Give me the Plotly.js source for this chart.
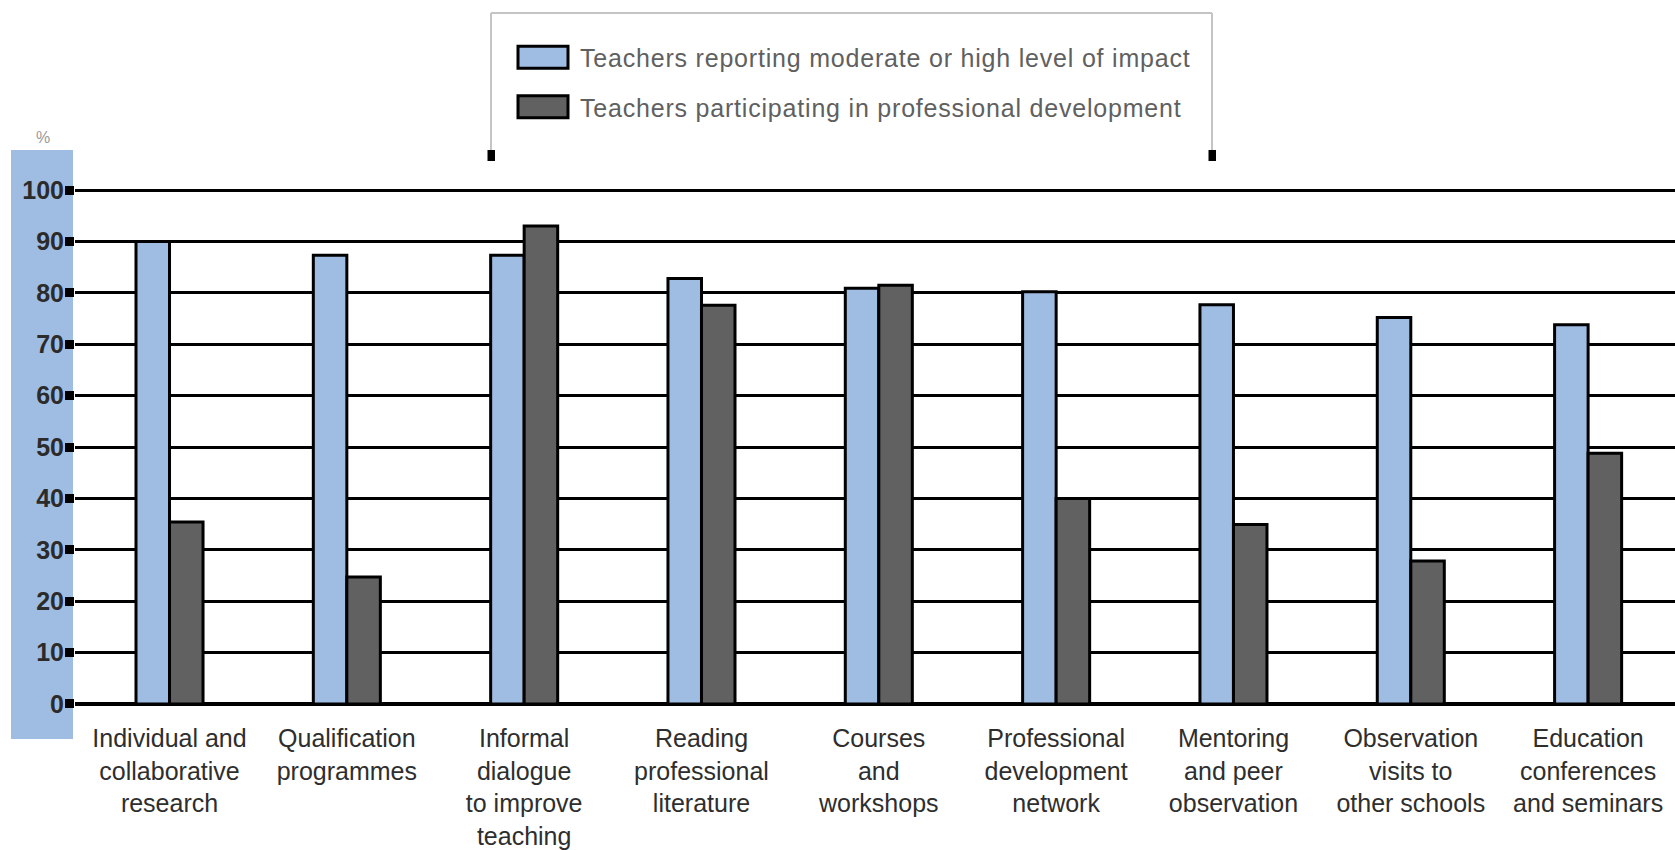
<!DOCTYPE html>
<html>
<head>
<meta charset="utf-8">
<script src="https://cdn.plot.ly/plotly-3.0.1.min.js"></script>
<style>
  html, body { margin: 0; padding: 0; background: #ffffff; }
  #chart { width: 1675px; height: 850px; }
  .legend text.legendtext { letter-spacing: 0.8px; }
</style>
</head>
<body>
<div id="chart"></div>
<script>
// ---- data ----
const categories = [
  "Individual and<br>collaborative<br>research",
  "Qualification<br>programmes",
  "Informal<br>dialogue<br>to improve<br>teaching",
  "Reading<br>professional<br>literature",
  "Courses<br>and<br>workshops",
  "Professional<br>development<br>network",
  "Mentoring<br>and peer<br>observation",
  "Observation<br>visits to<br>other schools",
  "Education<br>conferences<br>and seminars"
];
const impactValues = [90.0, 87.3, 87.3, 82.8, 80.9, 80.2, 77.7, 75.2, 73.8];
const participationValues = [35.4, 24.7, 93.0, 77.6, 81.5, 40.0, 34.9, 27.8, 48.8];
const seriesNames = [
  "Teachers reporting moderate or high level of impact",
  "Teachers participating in professional development"
];
const yTickValues = [0, 10, 20, 30, 40, 50, 60, 70, 80, 90, 100];
const yTickLabels = ["0", "10", "20", "30", "40", "50", "60", "70", "80", "90", "100"];
const yUnitLabel = "%";

// ---- plot geometry helpers (pixels -> paper) ----
const PL = 75, PW = 1600, PT = 188, PH = 518;
const px = v => (v - PL) / PW;
const py = v => (PT + PH - v) / PH;

const data = [
  {
    type: "bar", x: categories, y: impactValues, name: seriesNames[0],
    legendgroup: "a",
    marker: { color: "#9FBDE3", line: { color: "#000000", width: 3 } },
    hoverinfo: "skip"
  },
  {
    type: "bar", x: categories, y: participationValues, name: seriesNames[1],
    legendgroup: "b",
    marker: { color: "#616161", line: { color: "#000000", width: 3 } },
    hoverinfo: "skip"
  }
];

const layout = {
  width: 1675, height: 850,
  margin: { l: PL, r: 0, t: PT, b: 850 - PT - PH, pad: 0 },
  paper_bgcolor: "#ffffff", plot_bgcolor: "#ffffff",
  barmode: "group", bargap: 0.622, bargroupgap: 0,
  showlegend: true,
  legend: {
    x: px(506), y: py(34.5), xanchor: "left", yanchor: "top",
    orientation: "v", traceorder: "grouped", tracegroupgap: 14,
    itemwidth: 64, bgcolor: "rgba(0,0,0,0)", borderwidth: 0,
    font: { family: "Liberation Sans, Arial, sans-serif", size: 25, color: "#606060" }
  },
  xaxis: {
    type: "category", range: [-0.533, 8.49],
    showgrid: false, zeroline: false, showline: false, ticks: "",
    ticklabelstandoff: 15,
    tickfont: { family: "Liberation Sans, Arial, sans-serif", size: 25, color: "#2e2e2e" },
    fixedrange: true
  },
  yaxis: {
    range: [-0.4, 100.4],
    tickvals: yTickValues, ticktext: yTickLabels,
    ticks: "outside", ticklen: 9, tickwidth: 9, tickcolor: "#000000",
    ticklabelstandoff: -4,
    showgrid: true, gridcolor: "#000000", gridwidth: 3,
    zeroline: true, zerolinecolor: "#000000", zerolinewidth: 3.5,
    showline: false,
    tickfont: { family: "Liberation Sans, Arial, sans-serif", size: 25, color: "#2b2b2b", weight: "bold" },
    fixedrange: true
  },
  shapes: [
    // blue band behind the y-axis labels
    { type: "rect", xref: "paper", yref: "paper", layer: "below",
      x0: px(11), x1: px(73), y0: py(739), y1: py(150),
      fillcolor: "#9FBDE3", line: { width: 0 } },
    // legend frame (top, left, right)
    { type: "line", xref: "paper", yref: "paper", x0: px(491), x1: px(1212), y0: py(13), y1: py(13),
      line: { color: "#c4c4c4", width: 2 } },
    { type: "line", xref: "paper", yref: "paper", x0: px(491), x1: px(491), y0: py(13), y1: py(152),
      line: { color: "#c4c4c4", width: 2 } },
    { type: "line", xref: "paper", yref: "paper", x0: px(1212), x1: px(1212), y0: py(13), y1: py(152),
      line: { color: "#c4c4c4", width: 2 } },
    { type: "rect", xref: "paper", yref: "paper", x0: px(487.5), x1: px(495), y0: py(161), y1: py(150),
      fillcolor: "#000000", line: { width: 0 } },
    { type: "rect", xref: "paper", yref: "paper", x0: px(1208.5), x1: px(1216), y0: py(161), y1: py(150),
      fillcolor: "#000000", line: { width: 0 } }
  ],
  annotations: [
    { text: yUnitLabel, xref: "paper", yref: "paper", x: px(43), y: py(137),
      xanchor: "center", yanchor: "middle", showarrow: false,
      font: { family: "Liberation Sans, Arial, sans-serif", size: 16, color: "#9a9a9a" } }
  ]
};

Plotly.newPlot("chart", data, layout, { displayModeBar: false, staticPlot: true }).then(gd => {
  gd.querySelectorAll(".legend [clip-path]").forEach(el => el.removeAttribute("clip-path"));
  gd.querySelectorAll(".legend .legendpoints path").forEach(p => {
    p.setAttribute("d", "M25,11H-25V-11H25Z");
    p.style.strokeWidth = "3px";
    p.style.stroke = "#000000";
  });
});
</script>
</body>
</html>
